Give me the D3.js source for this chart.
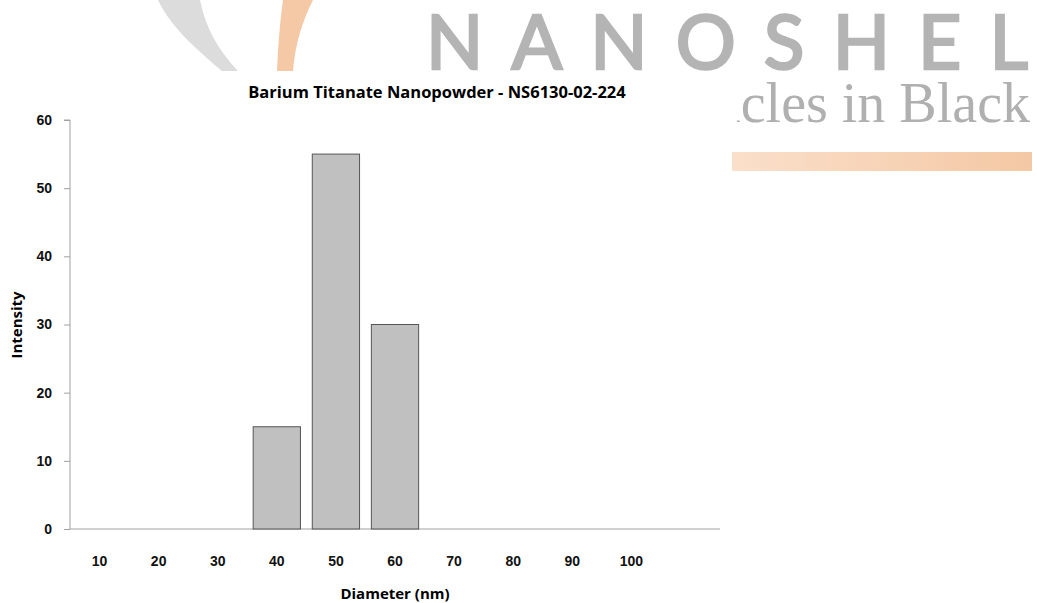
<!DOCTYPE html>
<head>
	<meta charset="utf-8">
	<style>
		body { margin: 0; background: white; }
		svg { font-family: "Open Sans", sans-serif; display: block; }
		svg .tick text { font-weight: bold; font-size: 14px; fill: #111; }
		svg .bar { fill: #c0c0c0; stroke: #555; stroke-width: 1; }
	</style>
</head>
<body>
	<svg width="1037" height="603"></svg>
	<script src="https://d3js.org/d3.v7.min.js"></script>
	<script>
		// data
		var categories = ["10", "20", "30", "40", "50", "60", "70", "80", "90", "100", ""];
		var intensity = [0, 0, 0, 15, 55, 30, 0, 0, 0, 0, 0];
		var yTicks = [0, 10, 20, 30, 40, 50, 60];

		var svg = d3.select("svg"),
			margin = { top: 120, right: 317, bottom: 74, left: 70 },
			width = 1037 - margin.left - margin.right,
			height = 603 - margin.top - margin.bottom;

		// background logo watermark
		var wm = svg.append("g");
		wm.append("path") // grey swoosh
			.attr("d", "M158,0 L200,0 C206,30 220,52 238,71 L222,71 C195,48 170,26 158,0 Z")
			.attr("fill", "#dcdcdc");
		var grad = svg.append("defs").append("linearGradient").attr("id", "og");
		grad.append("stop").attr("offset", "0").attr("stop-color", "#fadfca");
		grad.append("stop").attr("offset", "1").attr("stop-color", "#f4c8a4");
		wm.append("path") // orange swoosh
			.attr("d", "M283,0 L313,0 C302,22 295,45 293,71 L277,71 C278,45 280,22 283,0 Z")
			.attr("fill", "#f5c9a5");
		wm.append("text")
			.attr("x", 426).attr("y", 69)
			.attr("textLength", 602).attr("lengthAdjust", "spacing")
			.style("font-family", "Lato, 'DejaVu Sans', sans-serif")
			.style("font-size", "75px")
			.attr("fill", "#b4b4b4")
			.attr("stroke", "#b4b4b4")
			.attr("stroke-width", 2.6)
			.text("NANOSHEL");
		wm.append("text")
			.attr("x", 1030).attr("y", 122)
			.attr("text-anchor", "end")
			.style("font-family", "'Liberation Serif', serif")
			.style("font-size", "56px")
			.attr("fill", "#b0b0b0")
			.text("Particles in Black");
		// chart image covers the logo below
		svg.append("rect")
			.attr("x", 0).attr("y", 71).attr("width", 737).attr("height", 532)
			.attr("fill", "white");
		svg.append("rect")
			.attr("x", 732).attr("y", 152).attr("width", 300).attr("height", 19)
			.attr("fill", "url(#og)");

		var g = svg.append("g").attr("transform", "translate(" + margin.left + "," + margin.top + ")");

		var x = d3.scaleBand()
			.domain(categories.map(function (d, i) { return i; }))
			.range([0, width])
			.paddingInner(0.2)
			.paddingOuter(0.1);

		var y = d3.scaleLinear()
			.domain([0, 60])
			.range([height, 0]);

		// y axis
		var yAxis = g.append("g")
			.call(d3.axisLeft(y).tickValues(yTicks).tickSize(6).tickPadding(12));
		yAxis.selectAll("line, path").attr("stroke", "#a0a0a0");
		yAxis.select(".domain").attr("d", "M-6," + y(60) + "H0V" + height);

		// x axis
		var xAxis = g.append("g")
			.attr("transform", "translate(0," + height + ")")
			.call(d3.axisBottom(x).tickFormat(function (i) { return categories[i]; }).tickSize(0).tickPadding(27));
		xAxis.select(".domain").attr("stroke", "#a0a0a0").attr("d", "M0,0H" + width);

		// bars
		g.selectAll("rect.bar")
			.data(intensity)
			.enter().filter(function (d) { return d > 0; })
			.append("rect")
			.attr("class", "bar")
			.attr("x", function (d) { return x(intensity.indexOf(d)); })
			.attr("y", function (d) { return y(d); })
			.attr("width", x.bandwidth())
			.attr("height", function (d) { return height - y(d); });

		// titles
		svg.append("text")
			.attr("x", 437).attr("y", 98)
			.attr("text-anchor", "middle")
			.style("font-weight", "bold").style("font-size", "16.5px")
			.text("Barium Titanate Nanopowder - NS6130-02-224");

		svg.append("text")
			.attr("x", margin.left + 325).attr("y", 599)
			.attr("text-anchor", "middle")
			.style("font-weight", "bold").style("font-size", "15px")
			.text("Diameter (nm)");

		svg.append("text")
			.attr("transform", "translate(22,325) rotate(-90)")
			.attr("text-anchor", "middle")
			.style("font-weight", "bold").style("font-size", "15px")
			.text("Intensity");
	</script>
</body>
